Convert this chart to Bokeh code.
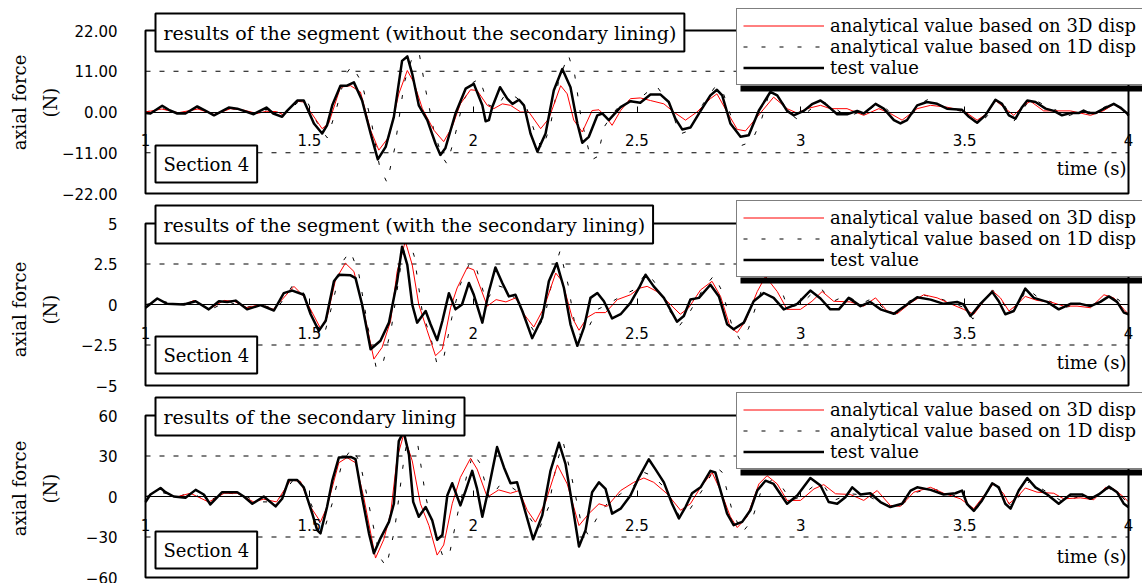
from bokeh.plotting import figure
from bokeh.models import (Range1d, FixedTicker, Label, Legend, LegendItem,
                          BoxAnnotation, LinearAxis)
from bokeh.embed import file_html
from bokeh.resources import INLINE
import math

# ---------------- data (time s, axial force N) ----------------
x_ticks = [1, 1.5, 2, 2.5, 3, 3.5, 4]

p1_yticks = [-22, -11, 0, 11, 22]
p1_ylabels = ["\u221222.00", "\u221211.00", "0.00", "11.00", "22.00"]
p2_yticks = [-5, -2.5, 0, 2.5, 5]
p2_ylabels = ["\u22125", "\u22122.5", "0", "2.5", "5"]
p3_yticks = [-60, -30, 0, 30, 60]
p3_ylabels = ["\u221260", "\u221230", "0", "30", "60"]

series_names = ["analytical value based on 3D disp",
                "analytical value based on 1D disp",
                "test value"]

titles = ["results of the segment (without the secondary lining)",
          "results of the segment (with the secondary lining)",
          "results of the secondary lining"]

# Panel 1 : segment without secondary lining
p1_test = [(1.0,-0.3),(1.015,-0.4),(1.051,1.7),(1.071,0.6),(1.097,-0.4),(1.122,-0.4),(1.158,1.5),(1.178,0.6),
           (1.209,-0.9),(1.254,1.2),(1.28,0.9),(1.33,-0.6),(1.369,1.2),(1.39,-0.4),(1.417,-1.3),(1.432,0.3),
           (1.463,3.1),(1.483,3.1),(1.514,-3.1),(1.539,-5.8),(1.554,-3.6),(1.57,1.8),(1.595,7.1),(1.615,7.1),
           (1.636,8.0),(1.661,3.1),(1.687,-5.8),(1.709,-12.8),(1.733,-9.4),(1.758,-1.3),(1.783,13.8),(1.799,15.0),
           (1.814,10.3),(1.834,1.8),(1.86,-2.2),(1.885,-8.5),(1.9,-11.6),(1.915,-9.8),(1.946,-0.4),(1.977,6.3),
           (2.002,7.6),(2.028,1.8),(2.038,-2.5),(2.048,-2.2),(2.058,1.3),(2.082,6.7),(2.104,3.6),(2.12,2.2),
           (2.14,3.3),(2.155,1.8),(2.175,-5.8),(2.196,-10.7),(2.221,-5.8),(2.246,5.8),(2.272,11.6),(2.297,6.7),
           (2.318,-3.1),(2.333,-8.3),(2.353,-6.7),(2.379,-0.9),(2.394,-0.4),(2.414,-2.2),(2.45,1.3),(2.48,2.9),
           (2.51,2.5),(2.541,4.7),(2.572,4.7),(2.597,2.7),(2.617,-1.8),(2.638,-4.7),(2.663,-4.2),(2.694,0.3),
           (2.724,4.5),(2.744,6.0),(2.76,4.5),(2.785,-3.1),(2.816,-6.7),(2.841,-6.3),(2.872,0.4),(2.907,5.4),
           (2.928,4.5),(2.958,0.3),(2.978,-0.9),(3.009,0.3),(3.034,2.1),(3.06,3.1),(3.08,1.8),(3.111,-0.6),
           (3.141,-0.6),(3.172,0.3),(3.192,-0.4),(3.228,2.2),(3.253,0.9),(3.284,-2.2),(3.304,-3.1),(3.324,-2.2),
           (3.355,1.8),(3.385,2.7),(3.416,2.2),(3.446,0.9),(3.492,0.6),(3.513,-1.3),(3.538,-2.9),(3.563,-0.9),
           (3.594,3.3),(3.614,2.2),(3.635,-0.9),(3.655,-1.8),(3.675,1.3),(3.691,3.1),(3.716,2.7),(3.747,0.9),
           (3.772,0.3),(3.797,-0.9),(3.823,-0.3),(3.848,-0.3),(3.863,0.4),(3.879,-0.3),(3.899,-0.3),(3.925,0.9),
           (3.955,2.2),(3.975,1.2),(3.996,-0.4),(4.0,-1.0)]
p1_3d = [(1.0,0),(1.05,0.8),(1.1,-0.2),(1.16,0.8),(1.21,-0.7),(1.26,0.9),(1.3,0.5),(1.34,-0.4),(1.37,0.2),
         (1.4,0.1),(1.42,-0.7),(1.463,2.9),(1.483,2.7),(1.539,-4.5),(1.559,-3.1),(1.595,6.7),(1.626,7.1),
         (1.656,5.4),(1.687,-4.9),(1.712,-10.3),(1.743,-6.7),(1.773,4.9),(1.799,11.2),(1.819,8.0),(1.845,0.9),
         (1.88,-4.9),(1.91,-8.0),(1.936,-4.0),(1.961,2.2),(1.992,6.0),(2.012,5.8),(2.043,1.8),(2.063,0.9),
         (2.089,2.2),(2.114,1.8),(2.145,0),(2.17,0),(2.206,-4.5),(2.231,-1.8),(2.267,7.1),(2.287,4.9),
         (2.307,-2.2),(2.333,-5.4),(2.363,0.4),(2.384,0.6),(2.404,-1.2),(2.424,-3.6),(2.45,0.4),(2.48,3.6),
         (2.51,3.8),(2.541,3.1),(2.582,2.2),(2.612,0),(2.648,-2.2),(2.683,0),(2.724,3.6),(2.744,4.9),(2.775,0),
         (2.806,-4.7),(2.831,-5.1),(2.867,-1.3),(2.917,4.0),(2.958,0.9),(2.989,-0.3),(3.019,0.9),(3.06,1.8),
         (3.09,0.9),(3.141,0.9),(3.192,-0.9),(3.238,0.9),(3.273,-0.4),(3.309,-2.2),(3.355,0.9),(3.396,1.8),
         (3.446,1.3),(3.497,0.3),(3.538,-2.2),(3.569,-0.4),(3.594,3.1),(3.619,1.3),(3.65,-0.9),(3.68,1.8),
         (3.701,2.9),(3.741,0.3),(3.782,0.3),(3.823,0.3),(3.884,-0.9),(3.925,0.4),(3.955,2.1),(3.986,0.3),(4.0,-0.8)]
p1_1d = [(1.0,0),(1.05,1),(1.1,-0.5),(1.16,1),(1.21,-0.8),(1.26,1),(1.34,-0.5),(1.38,1),(1.42,-1),(1.47,3),
         (1.49,3.5),(1.53,-4),(1.555,-7),(1.58,0),(1.61,10),(1.63,12.5),(1.66,8),(1.69,-3),(1.715,-15),
         (1.737,-19),(1.76,-10),(1.79,8),(1.815,15),(1.835,16),(1.855,6),(1.88,-5),(1.905,-12),(1.92,-14),
         (1.94,-8),(1.97,3),(2.0,8),(2.02,9),(2.045,2),(2.07,1),(2.1,5),(2.13,4),(2.16,2),(2.19,-6),(2.21,-10),
         (2.235,-4),(2.26,8),(2.29,15.5),(2.31,10),(2.33,-2),(2.36,-13),(2.38,-12),(2.4,-4),(2.43,0),(2.46,3),
         (2.5,3),(2.54,6),(2.56,7),(2.6,2),(2.63,-6),(2.66,-5),(2.7,2),(2.74,7),(2.76,6),(2.79,-2),(2.82,-9),
         (2.85,-8),(2.88,-2),(2.91,7),(2.93,5),(2.96,0),(2.99,-2),(3.02,0),(3.06,3),(3.09,2),(3.12,0),(3.15,-1),
         (3.18,0),(3.2,0),(3.23,2),(3.26,1),(3.3,-3),(3.33,-2),(3.36,2),(3.39,3.5),(3.42,2),(3.45,1),(3.5,0),
         (3.54,-3.5),(3.57,-1),(3.6,4),(3.62,2),(3.65,-2.5),(3.68,1),(3.7,3.5),(3.72,3),(3.75,1.5),(3.78,0.5),
         (3.8,-1.5),(3.85,0),(3.9,0),(3.93,1.5),(3.96,2.5),(3.99,0),(4.0,-0.5)]

# Panel 2 : segment with secondary lining
p2_test = [(1.0,-0.2),(1.036,0.37),(1.066,0.04),(1.117,0),(1.153,0.2),(1.193,-0.3),(1.224,0.2),(1.25,0.16),
           (1.275,0.24),(1.31,-0.3),(1.351,-0.04),(1.392,-0.37),(1.422,0.7),(1.448,0.86),(1.483,0.6),(1.504,-0.6),
           (1.529,-1.63),(1.55,-1.0),(1.575,1.43),(1.59,1.84),(1.626,1.8),(1.641,1.63),(1.661,0),(1.687,-2.76),
           (1.717,-2.24),(1.743,-1.12),(1.768,1.43),(1.783,3.57),(1.799,2.45),(1.814,0),(1.829,-1.12),(1.855,-0.4),
           (1.87,-1.22),(1.89,-2.2),(1.906,-1.02),(1.926,0.7),(1.946,-0.3),(1.966,0),(1.987,1.33),(2.002,0.6),
           (2.028,-1.12),(2.048,0.8),(2.068,2.29),(2.089,1.33),(2.109,0.5),(2.129,0.6),(2.15,-0.4),(2.18,-2.08),
           (2.211,-0.8),(2.231,1.43),(2.255,2.55),(2.277,1.02),(2.297,-1.22),(2.318,-2.55),(2.338,-1.43),
           (2.358,0.41),(2.379,0.71),(2.399,0.2),(2.424,-0.86),(2.45,-0.6),(2.48,0.1),(2.506,1.02),(2.526,1.84),
           (2.551,1.12),(2.582,0.41),(2.622,-1.06),(2.643,-0.71),(2.663,0.31),(2.689,0.41),(2.724,1.22),(2.75,0.5),
           (2.775,-1.22),(2.795,-1.53),(2.826,-1.12),(2.856,0.2),(2.887,0.71),(2.917,0.41),(2.948,-0.3),
           (2.989,0.04),(3.029,0.86),(3.06,0.37),(3.09,-0.3),(3.116,-0.3),(3.146,0.41),(3.182,-0.1),(3.212,0.16),
           (3.243,-0.3),(3.284,-0.57),(3.324,0),(3.355,0.45),(3.396,0.3),(3.436,0.04),(3.477,0.16),(3.497,0),
           (3.518,-0.71),(3.548,0.04),(3.584,0.78),(3.604,0.2),(3.624,-0.6),(3.65,-0.4),(3.685,0.98),(3.711,0.41),
           (3.752,0.16),(3.787,-0.3),(3.823,0.04),(3.853,0.04),(3.884,-0.1),(3.914,0.16),(3.94,0.5),(3.965,0.16),
           (3.986,-0.5),(4.0,-0.6)]
p2_3d = [(1.0,0),(1.05,0),(1.12,0),(1.148,0.25),(1.193,-0.3),(1.24,0.25),(1.27,0.2),(1.31,-0.2),(1.35,0),
         (1.39,-0.3),(1.453,1.12),(1.483,0.5),(1.534,-1.47),(1.554,-0.8),(1.58,1.53),(1.61,2.55),(1.636,2.04),
         (1.666,-0.4),(1.697,-3.37),(1.722,-2.65),(1.748,-1.02),(1.768,2.04),(1.793,3.9),(1.814,2.45),(1.834,0),
         (1.86,-1.63),(1.885,-3.16),(1.906,-2.76),(1.931,-0.2),(1.951,1.02),(1.982,2.29),(2.002,2.14),
         (2.043,-0.1),(2.07,0.3),(2.1,0.16),(2.13,0.41),(2.155,-0.6),(2.185,-1.39),(2.216,-0.2),(2.252,1.94),
         (2.272,1.43),(2.302,-0.8),(2.323,-1.59),(2.348,-0.8),(2.373,-0.5),(2.404,-0.5),(2.44,0.3),(2.48,0.6),
         (2.506,1.0),(2.531,1.12),(2.561,0.8),(2.592,0.2),(2.632,-0.6),(2.658,-0.2),(2.694,0.9),(2.729,1.43),
         (2.755,0.5),(2.785,-1.43),(2.806,-1.73),(2.831,-1.02),(2.867,0.8),(2.892,1.73),(2.928,0.8),
         (2.958,-0.3),(2.999,-0.3),(3.034,0.2),(3.065,0.8),(3.1,0.2),(3.151,0.16),(3.192,-0.1),(3.228,0.41),
         (3.263,-0.4),(3.294,-0.57),(3.335,0.1),(3.375,0.6),(3.416,0.41),(3.457,0.04),(3.497,-0.3),(3.528,-0.6),
         (3.558,0.2),(3.584,0.86),(3.609,0.41),(3.635,-0.4),(3.66,0),(3.685,0.5),(3.721,0.25),(3.762,0.16),
         (3.802,-0.1),(3.843,-0.1),(3.884,-0.2),(3.925,0.6),(3.955,0.41),(3.986,-0.3),(4.0,-0.6)]
p2_1d = [(1.0,0),(1.05,0.2),(1.1,0),(1.15,0.2),(1.2,-0.3),(1.25,0.2),(1.3,-0.2),(1.35,0),(1.4,-0.3),(1.45,1.2),
         (1.48,0.8),(1.52,-1.2),(1.545,-1.9),(1.57,0),(1.6,2.6),(1.625,3.3),(1.65,2.0),(1.68,-1.5),(1.705,-4.0),
         (1.725,-3.6),(1.75,-1.5),(1.78,2.5),(1.8,4.2),(1.82,3.0),(1.845,-0.5),(1.87,-2),(1.89,-3.7),(1.91,-3.3),
         (1.935,-0.8),(1.96,1.2),(1.99,2.6),(2.01,2.2),(2.04,0.2),(2.07,1.2),(2.1,1),(2.13,0.3),(2.16,-0.8),
         (2.19,-1.8),(2.22,-0.6),(2.25,2.3),(2.265,3.3),(2.29,1.2),(2.31,-1.2),(2.33,-2.0),(2.35,-1.5),(2.38,-0.3),
         (2.41,0),(2.45,0.5),(2.49,0.9),(2.53,2.0),(2.56,1.2),(2.6,-0.4),(2.63,-1.3),(2.66,-0.5),(2.7,0.9),
         (2.735,1.8),(2.76,0.8),(2.79,-1.3),(2.815,-2.2),(2.84,-1.5),(2.87,0.3),(2.9,2.0),(2.93,1.5),(2.96,-0.2),
         (3.0,0),(3.03,0.6),(3.06,1.0),(3.1,0.2),(3.14,0.6),(3.18,0),(3.22,0.4),(3.26,-0.4),(3.29,-0.6),(3.33,0.2),
         (3.37,0.6),(3.42,0.4),(3.46,0.1),(3.5,-0.2),(3.525,-0.9),(3.55,0),(3.585,0.9),(3.61,0.4),(3.635,-0.6),
         (3.66,-0.2),(3.69,1.0),(3.72,0.5),(3.76,0.2),(3.8,-0.2),(3.85,0),(3.9,0),(3.94,0.5),(3.97,0.3),(4.0,-0.6)]

# Panel 3 : secondary lining
p3_test = [(1.0,-4.1),(1.015,1.5),(1.046,6.3),(1.061,3.2),(1.086,0),(1.122,-1.0),(1.153,4.9),(1.178,1.5),
           (1.198,-5.9),(1.234,3.2),(1.28,3.2),(1.3,0),(1.326,-5.4),(1.361,0),(1.397,-7.3),(1.417,-1.7),
           (1.437,12.2),(1.463,12.2),(1.483,6.8),(1.509,-12.7),(1.524,-24.9),(1.534,-27.3),(1.554,-7.8),
           (1.57,11.7),(1.59,28.8),(1.626,29.3),(1.641,27.6),(1.661,-0.5),(1.682,-27.3),(1.697,-42),(1.717,-31),
           (1.743,-18.8),(1.758,-5.4),(1.773,41),(1.788,48),(1.804,31),(1.817,-4),(1.834,-15),(1.855,-7.8),
           (1.875,-17.6),(1.89,-32),(1.906,-28.5),(1.921,0.7),(1.936,9.8),(1.961,-6.6),(1.977,4.4),(1.997,19),
           (2.012,5.6),(2.028,-15),(2.048,6.8),(2.073,36.6),(2.094,21.5),(2.114,9.8),(2.134,10.5),(2.155,-7.8),
           (2.183,-31.7),(2.211,-13.9),(2.236,19),(2.262,39.8),(2.282,23.9),(2.307,-12.7),(2.323,-37),
           (2.343,-24.9),(2.363,3.2),(2.384,10.5),(2.404,5.6),(2.424,-12.7),(2.45,-9),(2.48,0.7),(2.506,14.2),
           (2.536,27.6),(2.556,20.3),(2.582,10.5),(2.607,-5.4),(2.628,-16.3),(2.648,-7.8),(2.668,2.4),
           (2.694,6.8),(2.724,19),(2.739,17.8),(2.755,4.4),(2.775,-12.7),(2.795,-21.2),(2.821,-18.8),
           (2.846,-10.2),(2.867,4.4),(2.892,11.7),(2.917,9.3),(2.958,-5.4),(2.989,0.7),(3.029,13.7),(3.06,8.1),
           (3.085,-4.1),(3.111,-5.4),(3.136,-0.5),(3.157,6.8),(3.182,1.5),(3.212,2.4),(3.243,-4.1),(3.273,-7.8),
           (3.309,-5.4),(3.335,4.4),(3.355,6.8),(3.396,4.9),(3.436,1.5),(3.472,2.4),(3.492,4.4),(3.507,-5.4),
           (3.528,-10.7),(3.553,-2.9),(3.584,9.8),(3.604,6.8),(3.624,-5.4),(3.64,-9),(3.665,4.4),(3.691,13.7),
           (3.716,6.8),(3.752,1.5),(3.787,-5.4),(3.823,1.5),(3.858,1.5),(3.884,-1.7),(3.909,1.5),(3.94,7.3),
           (3.965,3.2),(3.986,-5.4),(4.0,-8)]
p3_3d = [(1.0,0),(1.1,0),(1.137,2.4),(1.193,-4.1),(1.24,2.4),(1.28,2.4),(1.33,-4),(1.36,-2),(1.4,-4),
         (1.443,12.2),(1.473,11.2),(1.504,-7.8),(1.534,-18.8),(1.554,-7.8),(1.59,25),(1.615,28.8),(1.641,25),
         (1.666,-0.5),(1.702,-45.6),(1.727,-32),(1.748,-12.7),(1.768,28.8),(1.788,45.9),(1.814,26.4),
         (1.839,-5.4),(1.865,-21.5),(1.89,-43.4),(1.91,-35.9),(1.936,-5.4),(1.961,14.2),(1.992,28.3),
         (2.012,20.3),(2.043,-0.5),(2.078,4.9),(2.114,2.4),(2.14,4.4),(2.165,-10.2),(2.19,-19),(2.221,-4.1),
         (2.257,23.4),(2.287,9.3),(2.323,-21.5),(2.353,-12.7),(2.384,-5.4),(2.409,-7.3),(2.45,4.4),(2.49,10.5),
         (2.521,13.7),(2.551,10.5),(2.592,2),(2.633,-10.2),(2.663,-5.4),(2.694,6.8),(2.729,17.8),(2.755,4.4),
         (2.785,-15),(2.806,-23),(2.836,-15),(2.872,9.3),(2.897,15.4),(2.928,9.3),(2.958,-2.9),(2.999,-2.9),
         (3.04,5.6),(3.07,8.8),(3.106,2),(3.151,1.5),(3.192,-2.9),(3.233,4.4),(3.273,-6.6),(3.304,-7.3),
         (3.345,3.2),(3.396,6.8),(3.436,2.4),(3.487,-1.7),(3.528,-9),(3.563,2),(3.589,9.8),(3.619,2),
         (3.635,-5.4),(3.66,-0.5),(3.685,6.3),(3.721,3.2),(3.772,2.4),(3.802,-1.7),(3.853,-1),(3.894,-2.4),
         (3.93,6.8),(3.955,5.6),(3.986,-0.5),(4.0,-4)]
p3_1d = [(1.0,0),(1.05,3),(1.1,0),(1.14,3),(1.19,-4),(1.24,3),(1.3,1),(1.34,-4),(1.4,-4),(1.45,12),(1.48,9),
         (1.52,-14),(1.545,-25),(1.57,-5),(1.6,25),(1.63,36),(1.655,25),(1.685,-10),(1.715,-45),(1.735,-52),
         (1.76,-25),(1.79,30),(1.81,55),(1.83,40),(1.855,0),(1.88,-25),(1.91,-46),(1.93,-40),(1.955,-10),
         (1.98,15),(2.0,32),(2.02,25),(2.05,-2),(2.08,8),(2.11,8),(2.14,3),(2.17,-15),(2.2,-25),(2.23,-8),
         (2.255,25),(2.275,40),(2.3,15),(2.33,-20),(2.35,-28),(2.38,-15),(2.41,-5),(2.45,2),(2.49,8),(2.52,18),
         (2.55,15),(2.59,5),(2.63,-15),(2.66,-10),(2.7,5),(2.74,22),(2.76,18),(2.79,-10),(2.82,-27),(2.85,-18),
         (2.88,5),(2.91,12),(2.94,8),(2.97,-3),(3.0,0),(3.04,8),(3.07,8),(3.1,-3),(3.15,2),(3.2,1),(3.24,-4),
         (3.28,-8),(3.31,-6),(3.35,3),(3.4,6),(3.44,3),(3.5,-2),(3.53,-12),(3.56,0),(3.59,10),(3.62,0),
         (3.645,-8),(3.67,2),(3.7,12),(3.72,8),(3.76,2),(3.8,-4),(3.85,0),(3.9,0),(3.94,6),(3.97,3),(4.0,-6)]

# ---------------- layout (pixels) ----------------
W, HGT = 1142, 583
BOX_L, BOX_R = 145, 1128                     # left/right pixel of every plot box
PANELS = [  # box top/bottom px, axis-label centre y, title top, section top, legend bottom, "time" y
    dict(top=30, bot=193, ylab=102, ttop=13, stop=145, lbot=85, timey=168),
    dict(top=223, bot=385, ylab=309, ttop=205, stop=336, lbot=277, timey=362),
    dict(top=415, bot=577, ylab=488, ttop=397, stop=531, lbot=469, timey=556),
]

SERIF = "DejaVu Serif"
SANS = "DejaVu Sans"
RED = "#ff0000"
FS = "18px"
FS_TITLE = "19px"

xs = (BOX_R - BOX_L) / (x_ticks[-1] - x_ticks[0])
x_start = x_ticks[0] - BOX_L / xs
x_end = x_ticks[-1] + (W - BOX_R) / xs

p = figure(width=W, height=HGT, x_range=Range1d(x_start, x_end), y_range=Range1d(0, 1),
           output_backend="svg", toolbar_location=None,
           x_axis_location=None, y_axis_location=None,
           min_border_left=0, min_border_right=0, min_border_top=0, min_border_bottom=0)
p.background_fill_color = "white"
p.border_fill_color = "white"
p.outline_line_color = None
p.xgrid.visible = False
p.ygrid.visible = False

panel_data = [
    (titles[0], p1_yticks, p1_ylabels, p1_3d, p1_1d, p1_test),
    (titles[1], p2_yticks, p2_ylabels, p2_3d, p2_1d, p2_test),
    (titles[2], p3_yticks, p3_ylabels, p3_3d, p3_1d, p3_test),
]

for k, (title, yticks, ylabels, s3d, s1d, test) in enumerate(panel_data):
    geo = PANELS[k]
    lim = yticks[-1]
    ys = (geo["bot"] - geo["top"]) / (2 * lim)
    rn = "p%d" % (k + 1)
    p.extra_y_ranges[rn] = Range1d(-lim - (HGT - geo["bot"]) / ys, lim + geo["top"] / ys)

    # dashed horizontal grid lines (inner ticks only)
    g = [yticks[1], yticks[3]]
    p.segment(x0=[x_ticks[0]] * 2, x1=[x_ticks[-1]] * 2, y0=g, y1=g, y_range_name=rn,
              line_color="black", line_width=1, line_dash="5 9")

    # y axis along the left edge of the box
    ya = LinearAxis(y_range_name=rn, fixed_location=x_ticks[0], bounds=(-lim, lim),
                    ticker=FixedTicker(ticks=yticks))
    ov = {}
    for t, l in zip(yticks, ylabels):
        ov[t] = l
        ov[str(t)] = l
    ya.major_label_overrides = ov
    ya.major_tick_line_color = None
    ya.minor_tick_line_color = None
    ya.axis_line_color = None
    ya.major_label_standoff = 22
    ya.major_label_text_font = SANS
    ya.major_label_text_font_size = "15px"
    ya.major_label_text_color = "black"
    p.add_layout(ya, "left")

    # x axis along the zero line
    xa = LinearAxis(y_range_name=rn, fixed_location=0, bounds=(x_ticks[0], x_ticks[-1]),
                    ticker=FixedTicker(ticks=x_ticks))
    xa.major_tick_in = 6
    xa.major_tick_out = 0
    xa.minor_tick_line_color = None
    xa.axis_line_color = "black"
    xa.axis_line_width = 1
    xa.major_tick_line_color = "black"
    xa.major_label_standoff = 22
    xa.major_label_text_font = SANS
    xa.major_label_text_font_size = "15px"
    xa.major_label_text_color = "black"
    p.add_layout(xa, "below")

    r1 = p.line([a for a, b in s1d], [b for a, b in s1d], y_range_name=rn,
                line_color="black", line_width=1, line_dash="4 14")
    r3 = p.line([a for a, b in s3d], [b for a, b in s3d], y_range_name=rn,
                line_color=RED, line_width=1, line_join="round")
    rt = p.line([a for a, b in test], [b for a, b in test], y_range_name=rn,
                line_color="black", line_width=2.5, line_join="round")

    # plot-area box
    p.add_layout(BoxAnnotation(left=x_ticks[0], right=x_ticks[-1], bottom=-lim, top=lim,
                               y_range_name=rn, fill_alpha=0, fill_color=None,
                               line_color="black", line_width=2, line_alpha=1))

    # legend shadow
    p.add_layout(BoxAnnotation(left=740, right=W + 20, bottom=HGT - geo["lbot"] - 6, top=HGT - geo["lbot"],
                               left_units="screen", right_units="screen",
                               top_units="screen", bottom_units="screen",
                               fill_color="black", fill_alpha=1, line_color=None))

    legend = Legend(items=[LegendItem(label=series_names[0], renderers=[r3]),
                           LegendItem(label=series_names[1], renderers=[r1]),
                           LegendItem(label=series_names[2], renderers=[rt])],
                    location=(736, HGT - geo["lbot"]), orientation="vertical",
                    glyph_width=81, glyph_height=19, label_height=19, label_standoff=6,
                    padding=6, spacing=-1, margin=0, label_width=340,
                    label_text_font=SERIF, label_text_font_size=FS, label_text_color="black",
                    border_line_color="black", border_line_width=1,
                    background_fill_color="white", background_fill_alpha=1)
    p.add_layout(legend, "center")

    p.add_layout(Label(x=155, y=HGT - geo["ttop"], x_units="screen", y_units="screen", text=title,
                       text_font=SERIF, text_font_size=FS_TITLE, text_color="black",
                       text_align="left", text_baseline="top", padding=8,
                       border_line_color="black", border_line_width=2,
                       background_fill_color="white", background_fill_alpha=1))
    p.add_layout(Label(x=155, y=HGT - geo["stop"], x_units="screen", y_units="screen", text="Section 4",
                       text_font=SERIF, text_font_size=FS, text_color="black",
                       text_align="left", text_baseline="top", padding=8,
                       border_line_color="black", border_line_width=2,
                       background_fill_color="white", background_fill_alpha=1))
    p.add_layout(Label(x=1126, y=HGT - geo["timey"], x_units="screen", y_units="screen", text="time (s)",
                       text_font=SERIF, text_font_size=FS, text_color="black",
                       text_align="right", text_baseline="middle"))
    yc = HGT - geo["ylab"]
    p.add_layout(Label(x=19, y=yc, x_units="screen", y_units="screen", text="axial force",
                       text_font=SERIF, text_font_size=FS, text_color="black",
                       text_align="center", text_baseline="middle", angle=math.pi / 2))
    p.add_layout(Label(x=50, y=yc, x_units="screen", y_units="screen", text="(N)",
                       text_font=SERIF, text_font_size=FS, text_color="black",
                       text_align="center", text_baseline="middle", angle=math.pi / 2))

open("out.html", "w").write(file_html(p, INLINE))
